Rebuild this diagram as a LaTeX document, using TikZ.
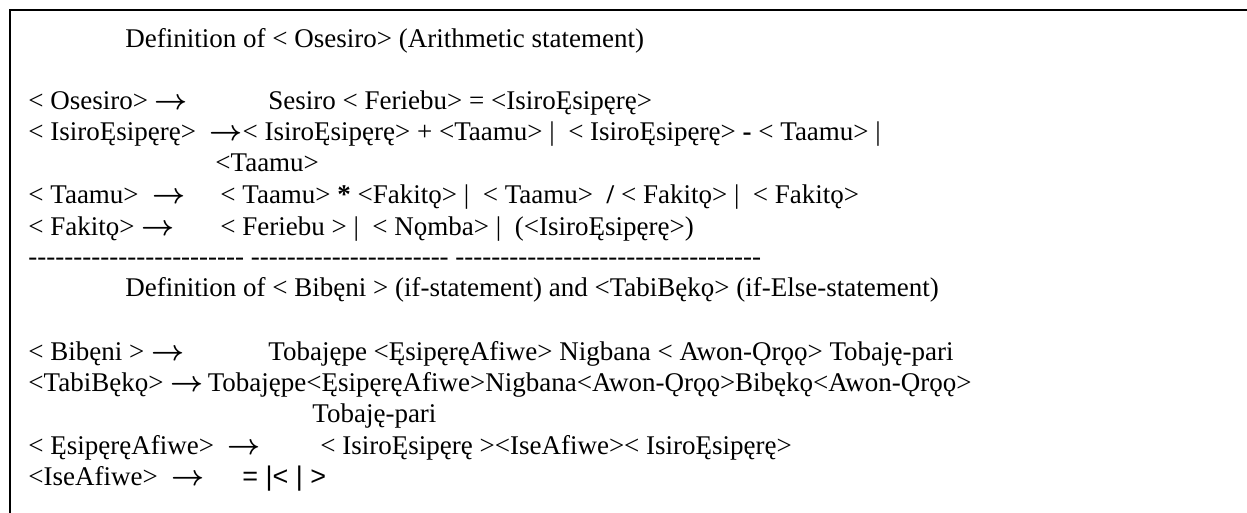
\documentclass[tikz,border=0pt]{standalone}
\usepackage{fontspec}
\setmainfont{Liberation Serif}
\newfontfamily\symsans{Liberation Sans}
\ExplSyntaxOn
\cs_new:Npn \myrep #1#2 { \prg_replicate:nn {#1} {#2} }
\ExplSyntaxOff
\newcommand\hy{-\kern0pt}
\newcommand\ar{{\boldmath$\rightarrow$}}
\begin{document}
\begin{tikzpicture}[x=0.5pt,y=-0.5pt,
  txt/.style={anchor=base west,inner sep=0pt,text height=9pt,text depth=2pt,font=\fontsize{13.5}{16}\selectfont},
  frameline/.style={line width=1.2pt,black}]
\useasboundingbox (0,0) rectangle (1247,513);
\coordinate (tl) at (10,10);
\coordinate (tr) at (1247,10);
\coordinate (bl) at (10,513);
\draw[frameline] (tr) -- (tl) -- (bl);
% section 1
\node[txt] (t1) at (125,48) {Definition of < Osesiro> (Arithmetic statement)};
\node[txt] (r1a) at (28,110) {< Osesiro> \ar};
\node[txt] (r1b) at (268,110) {Sesiro < Feriebu> = <IsiroĘsipęrę>};
\node[txt] (r2a) at (28,141) {< IsiroĘsipęrę> ~\ar< IsiroĘsipęrę> + <Taamu> |~~< IsiroĘsipęrę> \textbf{-} < Taamu> |};
\node[txt] (r2b) at (215,172) {<Taamu>};
\node[txt] (r3a) at (28,204) {< Taamu> ~\ar};
\node[txt] (r3b) at (220,204) {< Taamu> \textbf{*} <Fakitǫ> |~~< Taamu>~~\textbf{/} < Fakitǫ> |~~< Fakitǫ>};
\node[txt] (r4a) at (28,235) {< Fakitǫ> \ar};
\node[txt] (r4b) at (220,235) {< Feriebu > |~~< Nǫmba> |~~(<IsiroĘsipęrę>)};
\node[txt] (sep) at (28,265) {\myrep{24}{\hy}~\myrep{22}{\hy}~\myrep{34}{\hy}};
% section 2
\node[txt] (t2) at (125,297) {Definition of < Bibęni > (if-statement) and <TabiBękǫ> (if-Else-statement)};
\node[txt] (r5a) at (28,360) {< Bibęni > \ar};
\node[txt] (r5b) at (268,360) {Tobajępe <ĘsipęręAfiwe> Nigbana < Awon-Ǫrǫǫ> Tobaję-pari};
\node[txt] (r6a) at (28,391) {<TabiBękǫ> \ar\,Tobajępe<ĘsipęręAfiwe>Nigbana<Awon-Ǫrǫǫ>Bibękǫ<Awon-Ǫrǫǫ>};
\node[txt] (r6b) at (312,422) {Tobaję-pari};
\node[txt] (r7a) at (28,454) {< ĘsipęręAfiwe> ~\ar};
\node[txt] (r7b) at (320,454) {< IsiroĘsipęrę ><IseAfiwe>< IsiroĘsipęrę>};
\node[txt] (r8a) at (28,485) {<IseAfiwe> ~\ar};
\node[txt] (r8b) at (242,485) {{\symsans =~|<~|~>}};
\end{tikzpicture}
\end{document}
